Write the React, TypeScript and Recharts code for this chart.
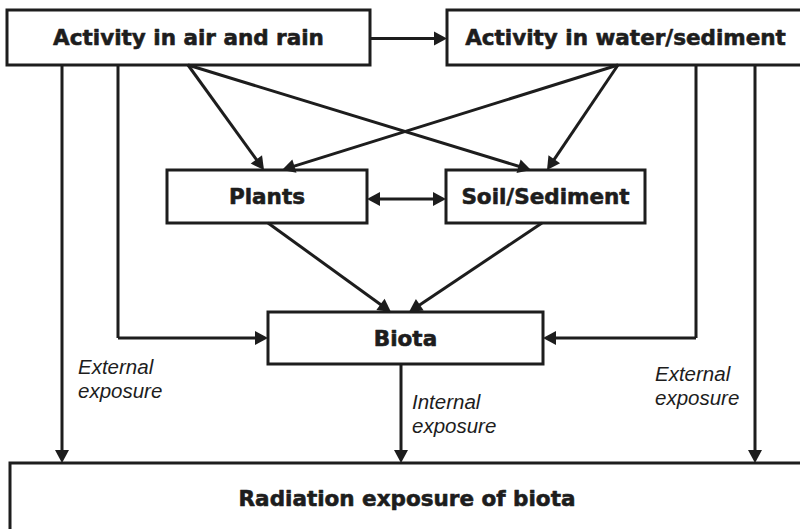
import React from 'react';
import { ComposedChart, XAxis, YAxis, ReferenceArea, ReferenceLine, Scatter } from 'recharts';

// Diagram coordinate space (x: 0..800, y: 0..529, y grows downward)
const BOX_LABELS = [
  'Activity in air and rain',
  'Activity in water/sediment',
  'Plants',
  'Soil/Sediment',
  'Biota',
  'Radiation exposure of biota',
];
const BOX_LEFT = [7, 447, 167, 446, 268, 10];
const BOX_RIGHT = [370, 804, 367, 645, 543, 804];
const BOX_TOP = [10, 10, 170, 170, 312, 463];
const BOX_BOTTOM = [65, 65, 223, 223, 364, 534];

// Connectors: list of polyline vertices, arrow head kind
const EDGE_PATHS: [number, number][][] = [
  [[370, 38.5], [447, 38.5]],
  [[62, 65], [62, 463]],
  [[118, 65], [118, 338], [268, 338]],
  [[188, 65], [264, 170]],
  [[188, 65], [531, 170]],
  [[618, 65], [282, 170]],
  [[618, 65], [547, 170]],
  [[696, 65], [696, 338], [543, 338]],
  [[755, 65], [755, 463]],
  [[268, 223], [391, 312]],
  [[542, 223], [409, 312]],
  [[401, 364], [401, 463]],
  [[367, 199], [446, 199]],
];
const EDGE_HEADS = ['end', 'end', 'end', 'end', 'end', 'end', 'end', 'end', 'end', 'end', 'end', 'end', 'both'];

const NOTE_TEXT = [
  ['External', 'exposure'],
  ['Internal', 'exposure'],
  ['External', 'exposure'],
];
const NOTE_X = [78, 412, 655];
const NOTE_Y = [374, 409, 381];

const INK = '#1d1d1d';
const HEAD_LEN = 13;
const HEAD_HALF = 7;

type Head = { x: number; y: number; angle: number };

const heads: Head[] = [];
const segments: { x1: number; y1: number; x2: number; y2: number }[] = [];

EDGE_PATHS.forEach((pts, i) => {
  const kind = EDGE_HEADS[i];
  const p = pts.map((q) => [q[0], q[1]] as [number, number]);
  const n = p.length;
  const shorten = (from: [number, number], to: [number, number]) => {
    const dx = to[0] - from[0];
    const dy = to[1] - from[1];
    const len = Math.hypot(dx, dy);
    const k = (HEAD_LEN * 0.6) / len;
    return [to[0] - dx * k, to[1] - dy * k] as [number, number];
  };
  const a = p[n - 2];
  const b = p[n - 1];
  heads.push({ x: b[0], y: b[1], angle: (Math.atan2(b[1] - a[1], b[0] - a[0]) * 180) / Math.PI });
  p[n - 1] = shorten(a, b);
  if (kind === 'both') {
    const s0 = pts[0];
    const s1 = pts[1];
    heads.push({ x: s0[0], y: s0[1], angle: (Math.atan2(s0[1] - s1[1], s0[0] - s1[0]) * 180) / Math.PI });
    p[0] = shorten([s1[0], s1[1]], [s0[0], s0[1]]);
  }
  for (let j = 0; j < n - 1; j++) {
    segments.push({ x1: p[j][0], y1: p[j][1], x2: p[j + 1][0], y2: p[j + 1][1] });
  }
});

const notes = NOTE_TEXT.map((lines, i) => ({ x: NOTE_X[i], y: NOTE_Y[i], lines }));

const ArrowHead = (props: any) => {
  const { cx, cy, payload } = props;
  if (cx == null || cy == null) return null;
  return (
    <polygon
      points={`0,0 ${-HEAD_LEN},${-HEAD_HALF} ${-HEAD_LEN},${HEAD_HALF}`}
      transform={`translate(${cx},${cy}) rotate(${payload.angle})`}
      fill={INK}
    />
  );
};

const NoteText = (props: any) => {
  const { cx, cy, payload } = props;
  if (cx == null || cy == null) return null;
  return (
    <text
      x={cx}
      y={cy}
      fill={INK}
      fontFamily="'Liberation Sans', Arial, sans-serif"
      fontStyle="italic"
      fontSize={20.5}
    >
      {payload.lines.map((l: string, k: number) => (
        <tspan key={k} x={cx} dy={k === 0 ? 0 : 23.5}>
          {l}
        </tspan>
      ))}
    </text>
  );
};

const BoxLabel = (props: any) => {
  const { viewBox, value } = props;
  if (!viewBox) return null;
  const cx = viewBox.x + viewBox.width / 2;
  const cy = viewBox.y + viewBox.height / 2;
  return (
    <text
      x={cx}
      y={cy}
      textAnchor="middle"
      dominantBaseline="central"
      fill={INK}
      stroke={INK}
      strokeWidth={0.6}
      strokeLinejoin="round"
      fontSize={21.5}
      fontWeight="bold"
      fontFamily="'DejaVu Sans', sans-serif"
    >
      {value}
    </text>
  );
};

export default function App() {
  return (
    <div style={{ position: 'fixed', left: 0, top: 0, width: 800, height: 529, background: '#fff' }}>
      <ComposedChart width={800} height={529} margin={{ top: 0, right: 0, bottom: 0, left: 0 }}>
        <XAxis type="number" dataKey="x" domain={[0, 800]} hide allowDataOverflow />
        <YAxis type="number" dataKey="y" domain={[0, 529]} reversed hide allowDataOverflow width={0} />
        {segments.map((s, i) => (
          <ReferenceLine
            key={`s${i}`}
            segment={[
              { x: s.x1, y: s.y1 },
              { x: s.x2, y: s.y2 },
            ]}
            stroke={INK}
            strokeWidth={3}
            ifOverflow="visible"
          />
        ))}
        {BOX_LABELS.map((lab, i) => (
          <ReferenceArea
            key={`b${i}`}
            x1={BOX_LEFT[i]}
            x2={BOX_RIGHT[i]}
            y1={BOX_TOP[i]}
            y2={BOX_BOTTOM[i]}
            fill="#ffffff"
            fillOpacity={1}
            stroke={INK}
            strokeWidth={3}
            ifOverflow="hidden"
            label={<BoxLabel value={lab} />}
          />
        ))}
        <Scatter data={heads} dataKey="y" shape={<ArrowHead />} isAnimationActive={false} />
        <Scatter data={notes} dataKey="y" shape={<NoteText />} isAnimationActive={false} />
      </ComposedChart>
    </div>
  );
}
